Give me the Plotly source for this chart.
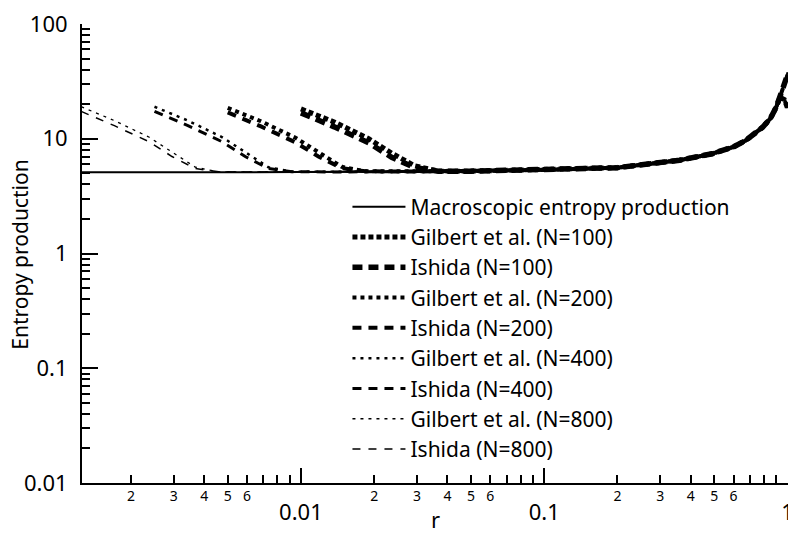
import plotly.graph_objects as go

# ---------------- data ----------------
r_macro = [0.00125, 0.003, 0.01, 0.03, 0.05, 0.1, 0.2, 0.36, 0.49, 0.6, 0.675,
           0.79, 0.85, 0.9, 0.93, 0.97, 1.0]
s_macro = [5.1, 5.1, 5.12, 5.18, 5.22, 5.36, 5.6, 6.5, 7.4, 8.5, 9.7,
           12.6, 15.0, 19.0, 23.0, 30.0, 38.0]

# tails of the discrete curves (they follow the macroscopic curve)
r_tail = [0.05, 0.1, 0.2, 0.36, 0.49, 0.6, 0.675, 0.79, 0.85, 0.9, 0.93, 0.97, 1.0]
s_tail_gilbert = [5.22, 5.36, 5.6, 6.5, 7.4, 8.5, 9.7, 12.6, 15.0, 19.0, 23.0, 22.0, 18.5]
s_tail_ishida = [5.22, 5.36, 5.6, 6.5, 7.4, 8.5, 9.7, 12.6, 15.0, 19.0, 23.0, 29.0, 36.0]

r_n800 = [0.00125, 0.00171, 0.00238, 0.00295, 0.00368, 0.00459, 0.01, 0.03]
r_n400 = [0.0025, 0.00343, 0.00475, 0.0059, 0.00735, 0.00918, 0.015, 0.03]
r_n200 = [0.005, 0.00685, 0.0095, 0.0118, 0.0147, 0.0184, 0.03]
r_n100 = [0.01, 0.0137, 0.019, 0.0236, 0.0294, 0.0367]

s_gilbert_n800 = [19.0, 14.4, 10.3, 7.6, 5.65, 5.15, 5.12, 5.18]
s_ishida_n800 = [17.3, 13.0, 9.4, 7.0, 5.5, 5.15, 5.12, 5.18]
s_gilbert_n400 = [19.0, 14.4, 10.3, 7.6, 5.65, 5.15, 5.14, 5.18]
s_ishida_n400 = [17.3, 13.0, 9.4, 7.0, 5.5, 5.15, 5.14, 5.18]
s_gilbert_n200 = [18.6, 14.2, 10.2, 7.6, 5.7, 5.2, 5.18]
s_ishida_n200 = [17.0, 12.8, 9.3, 7.0, 5.55, 5.2, 5.18]
s_gilbert_n100 = [18.2, 14.0, 10.0, 7.5, 5.8, 5.22]
s_ishida_n100 = [16.8, 12.7, 9.2, 6.9, 5.6, 5.22]

series_names = ["Gilbert et al. (N=100)", "Ishida (N=100)",
                "Gilbert et al. (N=200)", "Ishida (N=200)",
                "Gilbert et al. (N=400)", "Ishida (N=400)",
                "Gilbert et al. (N=800)", "Ishida (N=800)"]

x_minor_vals = [m * d for d in (0.001, 0.01, 0.1) for m in range(2, 10)]
x_minor_text = [str(m) if m <= 6 else "" for d in (0.001, 0.01, 0.1) for m in range(2, 10)]
x_major_vals = [0.01, 0.1, 1]
x_major_text = ["0.01", "0.1", "1"]
y_major_vals = [0.01, 0.1, 1, 10, 100]
y_major_text = ["0.01", "0.1", "1", "10", "100"]
y_minor_vals = [m * d for d in (0.01, 0.1, 1, 10) for m in range(2, 10)]

# ---------------- figure ----------------
FONT = "Noto Sans"
fig = go.Figure()

fig.add_trace(go.Scatter(x=r_macro, y=s_macro, mode="lines",
                         name="Macroscopic entropy production",
                         line=dict(color="black", width=2)))

curves = [
    (r_n100, s_gilbert_n100, s_tail_gilbert, 5.0, "5px,3px"),
    (r_n100, s_ishida_n100, s_tail_ishida, 5.5, "10px,6px"),
    (r_n200, s_gilbert_n200, s_tail_gilbert, 4.0, "4px,4px"),
    (r_n200, s_ishida_n200, s_tail_ishida, 4.0, "9px,7px"),
    (r_n400, s_gilbert_n400, s_tail_gilbert, 2.5, "3px,5px"),
    (r_n400, s_ishida_n400, s_tail_ishida, 3.0, "9px,7px"),
    (r_n800, s_gilbert_n800, s_tail_gilbert, 1.3, "3px,5px"),
    (r_n800, s_ishida_n800, s_tail_ishida, 1.5, "8px,8px"),
]
for name, (rv, sv, tail, w, dash) in zip(series_names, curves):
    fig.add_trace(go.Scatter(x=rv + r_tail, y=sv + tail, mode="lines", name=name,
                             line=dict(color="black", width=w, dash=dash)))

# invisible trace to activate the overlaying minor-label x axis
fig.add_trace(go.Scatter(x=[0.01], y=[1], xaxis="x2", mode="markers",
                         marker=dict(opacity=0), showlegend=False, hoverinfo="skip"))

xrange = [-2.9, 0.002]
fig.update_layout(
    width=788, height=534,
    margin=dict(l=82, r=0, t=24, b=51, autoexpand=False),
    paper_bgcolor="white", plot_bgcolor="white",
    font=dict(family=FONT, color="black", size=22),
    showlegend=True,
    legend=dict(x=0.376, y=0.646, xanchor="left", yanchor="top",
                font=dict(size=21, family=FONT), itemwidth=53,
                bgcolor="rgba(0,0,0,0)", tracegroupgap=0),
    xaxis=dict(type="log", range=xrange, showgrid=False, zeroline=False,
               automargin=False,
               showline=True, linecolor="black", linewidth=2,
               tickmode="array", tickvals=x_major_vals, ticktext=x_major_text,
               ticks="inside", ticklen=15, tickwidth=2, tickcolor="black",
               tickfont=dict(size=22, family=FONT), ticklabelstandoff=9,
               ticklabeloverflow="allow",
               minor=dict(tickvals=x_minor_vals, ticks="inside", ticklen=8,
                          tickwidth=1.5, tickcolor="black")),
    xaxis2=dict(type="log", range=xrange, overlaying="x", side="bottom", anchor="y",
                automargin=False,
                showgrid=False, zeroline=False, showline=False,
                tickmode="array", tickvals=x_minor_vals, ticktext=x_minor_text,
                ticks="", tickfont=dict(size=14, family=FONT), ticklabelstandoff=3),
    yaxis=dict(type="log", range=[-2, 2], showgrid=False, zeroline=False,
               automargin=False,
               showline=True, linecolor="black", linewidth=2,
               tickmode="array", tickvals=y_major_vals, ticktext=y_major_text,
               ticks="inside", ticklen=16, tickwidth=2, tickcolor="black",
               tickfont=dict(size=22, family=FONT), ticklabelstandoff=8,
               minor=dict(tickvals=y_minor_vals, ticks="inside", ticklen=8,
                          tickwidth=1.5, tickcolor="black")),
    annotations=[
        dict(text="Entropy production", textangle=-90, xref="paper", yref="paper",
             x=-0.088, y=0.497, xanchor="center", yanchor="middle",
             showarrow=False, font=dict(size=21, family=FONT)),
        dict(text="r", xref="paper", yref="paper", x=0.5, y=-0.079,
             xanchor="center", yanchor="middle", showarrow=False,
             font=dict(size=22, family=FONT)),
    ],
)

fig.write_html("out.html")
